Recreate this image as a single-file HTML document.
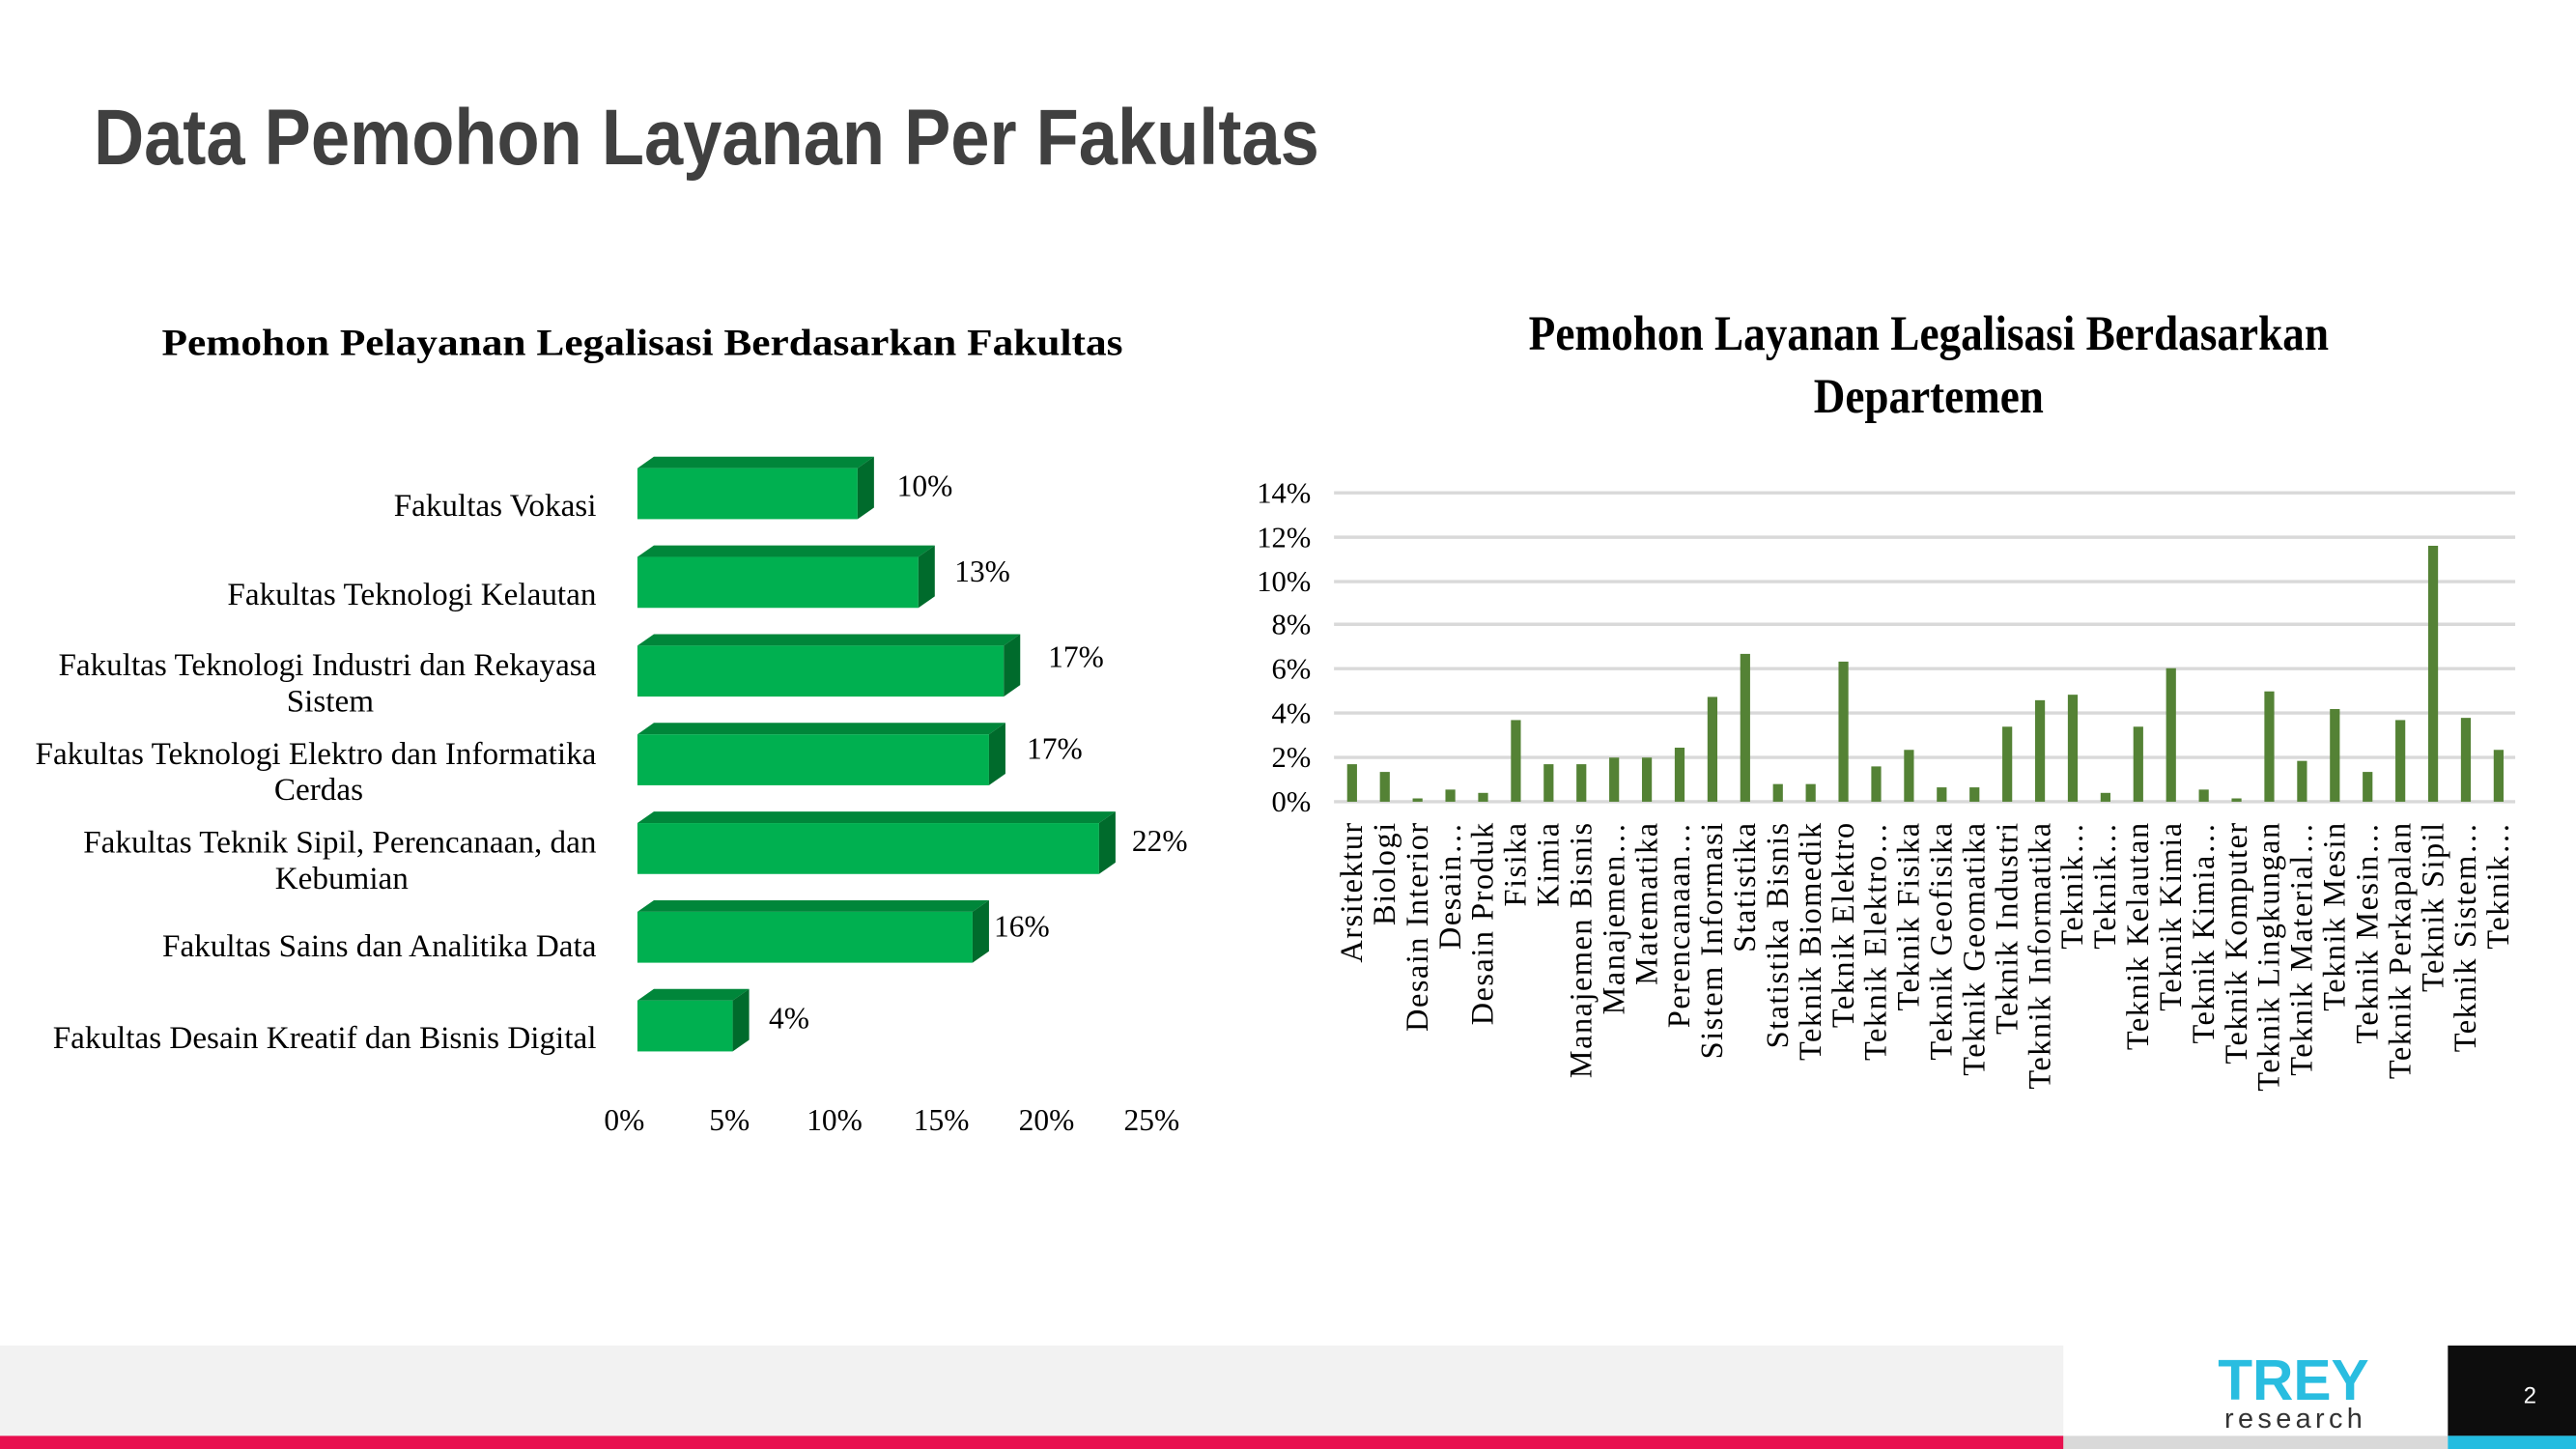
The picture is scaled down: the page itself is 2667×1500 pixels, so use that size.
<!DOCTYPE html>
<html><head><meta charset="utf-8"><style>
html,body{margin:0;padding:0;background:#fff;}
svg{display:block;}
</style></head><body>
<svg width="2667" height="1500" viewBox="0 0 1568 882" preserveAspectRatio="none" xmlns="http://www.w3.org/2000/svg">
<rect width="1568" height="882" fill="#fff"/>
<text x="57" y="100" font-family="Liberation Sans, sans-serif" font-weight="bold" font-size="48" fill="#404040" textLength="746" lengthAdjust="spacingAndGlyphs">Data Pemohon Layanan Per Fakultas</text>

<text x="391" y="216" text-anchor="middle" font-family="Liberation Serif, serif" font-weight="bold" font-size="23" fill="#000" textLength="585" lengthAdjust="spacingAndGlyphs">Pemohon Pelayanan Legalisasi Berdasarkan Fakultas</text>
<g font-family="Liberation Serif, serif" font-size="19.5" fill="#000">
<g text-anchor="end">
<text x="363" y="314">Fakultas Vokasi</text>
<text x="363" y="368">Fakultas Teknologi Kelautan</text>
<text x="363" y="411">Fakultas Teknologi Industri dan Rekayasa</text>
<text x="363" y="465">Fakultas Teknologi Elektro dan Informatika</text>
<text x="363" y="519">Fakultas Teknik Sipil, Perencanaan, dan</text>
<text x="363" y="582">Fakultas Sains dan Analitika Data</text>
<text x="363" y="638">Fakultas Desain Kreatif dan Bisnis Digital</text>
</g>
<g text-anchor="middle">
<text x="201" y="433">Sistem</text>
<text x="194" y="487">Cerdas</text>
<text x="208" y="541">Kebumian</text>
</g>
</g>
<g font-family="Liberation Serif, serif" font-size="18.5" fill="#000">
<g text-anchor="middle">
<text x="380" y="688">0%</text><text x="444" y="688">5%</text><text x="508" y="688">10%</text><text x="573" y="688">15%</text><text x="637" y="688">20%</text><text x="701" y="688">25%</text>
</g>
<text x="546" y="302">10%</text>
<text x="581" y="354">13%</text>
<text x="638" y="406">17%</text>
<text x="625" y="462">17%</text>
<text x="689" y="518">22%</text>
<text x="605" y="570">16%</text>
<text x="468" y="626">4%</text>
</g>
<g>
<g><polygon points="388,285 398,278 532,278 522,285" fill="#00863a"/><rect x="388" y="285" width="134" height="31" fill="#00b050"/><polygon points="522,285 532,278 532,309 522,316" fill="#006b2c"/></g>
<g><polygon points="388,339 398,332 569,332 559,339" fill="#00863a"/><rect x="388" y="339" width="171" height="31" fill="#00b050"/><polygon points="559,339 569,332 569,363 559,370" fill="#006b2c"/></g>
<g><polygon points="388,393 398,386 621,386 611,393" fill="#00863a"/><rect x="388" y="393" width="223" height="31" fill="#00b050"/><polygon points="611,393 621,386 621,417 611,424" fill="#006b2c"/></g>
<g><polygon points="388,447 398,440 612,440 602,447" fill="#00863a"/><rect x="388" y="447" width="214" height="31" fill="#00b050"/><polygon points="602,447 612,440 612,471 602,478" fill="#006b2c"/></g>
<g><polygon points="388,501 398,494 679,494 669,501" fill="#00863a"/><rect x="388" y="501" width="281" height="31" fill="#00b050"/><polygon points="669,501 679,494 679,525 669,532" fill="#006b2c"/></g>
<g><polygon points="388,555 398,548 602,548 592,555" fill="#00863a"/><rect x="388" y="555" width="204" height="31" fill="#00b050"/><polygon points="592,555 602,548 602,579 592,586" fill="#006b2c"/></g>
<g><polygon points="388,609 398,602 456,602 446,609" fill="#00863a"/><rect x="388" y="609" width="58" height="31" fill="#00b050"/><polygon points="446,609 456,602 456,633 446,640" fill="#006b2c"/></g>
</g>

<g font-family="Liberation Serif, serif" font-weight="bold" font-size="30" fill="#000" text-anchor="middle">
<text x="1174" y="213" textLength="487" lengthAdjust="spacingAndGlyphs">Pemohon Layanan Legalisasi Berdasarkan</text>
<text x="1174" y="251" textLength="140" lengthAdjust="spacingAndGlyphs">Departemen</text>
</g>
<g stroke="#d9d9d9" stroke-width="2">
<line x1="812" y1="300" x2="1531" y2="300"/><line x1="812" y1="327" x2="1531" y2="327"/><line x1="812" y1="354" x2="1531" y2="354"/><line x1="812" y1="380" x2="1531" y2="380"/><line x1="812" y1="407" x2="1531" y2="407"/><line x1="812" y1="434" x2="1531" y2="434"/><line x1="812" y1="461" x2="1531" y2="461"/><line x1="812" y1="488" x2="1531" y2="488"/>
</g>
<g font-family="Liberation Serif, serif" font-size="18" fill="#000" text-anchor="end">
<text x="798" y="306">14%</text><text x="798" y="333">12%</text><text x="798" y="360">10%</text><text x="798" y="386">8%</text><text x="798" y="413">6%</text><text x="798" y="440">4%</text><text x="798" y="467">2%</text><text x="798" y="494">0%</text>
</g>
<g id="vb" fill="#548235"></g>
<g id="vl" font-family="Liberation Serif, serif" font-size="19" fill="#000" text-anchor="end"></g>

<rect x="0" y="819" width="1256" height="55" fill="#f2f2f2"/>
<rect x="0" y="874" width="1256" height="8" fill="#e8104f"/>
<rect x="1256" y="819" width="234" height="55" fill="#fff"/>
<rect x="1256" y="874" width="234" height="8" fill="#d9d9d9"/>
<rect x="1490" y="819" width="78" height="55" fill="#0d0d0d"/>
<rect x="1490" y="874" width="78" height="8" fill="#22bce0"/>
<text x="1396" y="852" text-anchor="middle" font-family="Liberation Sans, sans-serif" font-weight="bold" font-size="35" fill="#29bde0" textLength="92" lengthAdjust="spacingAndGlyphs">TREY</text>
<text x="1396" y="869" text-anchor="middle" font-family="Liberation Sans, sans-serif" font-size="17" fill="#333" textLength="84" lengthAdjust="spacing">research</text>
<text x="1540" y="854" text-anchor="middle" font-family="Liberation Sans, sans-serif" font-size="14" fill="#fff">2</text>
</svg>
<script>
var d=[["Arsitektur",1.7],["Biologi",1.35],["Desain Interior",0.15],["Desain…",0.55],["Desain Produk",0.4],["Fisika",3.7],["Kimia",1.7],["Manajemen Bisnis",1.7],["Manajemen…",2.0],["Matematika",2.0],["Perencanaan…",2.45],["Sistem Informasi",4.75],["Statistika",6.7],["Statistika Bisnis",0.8],["Teknik Biomedik",0.8],["Teknik Elektro",6.35],["Teknik Elektro…",1.6],["Teknik Fisika",2.35],["Teknik Geofisika",0.65],["Teknik Geomatika",0.65],["Teknik Industri",3.4],["Teknik Informatika",4.6],["Teknik…",4.85],["Teknik…",0.4],["Teknik Kelautan",3.4],["Teknik Kimia",6.05],["Teknik Kimia…",0.55],["Teknik Komputer",0.15],["Teknik Lingkungan",5.0],["Teknik Material…",1.85],["Teknik Mesin",4.2],["Teknik Mesin…",1.35],["Teknik Perkapalan",3.7],["Teknik Sipil",11.6],["Teknik Sistem…",3.8],["Teknik…",2.35]];
var NS="http://www.w3.org/2000/svg",vb=document.getElementById("vb"),vl=document.getElementById("vl");
d.forEach(function(e,i){var cx=823+i*19.94,h=e[1]*13.43;
var r=document.createElementNS(NS,"rect");r.setAttribute("x",cx-3);r.setAttribute("y",488-h);r.setAttribute("width",6);r.setAttribute("height",h);vb.appendChild(r);
var t=document.createElementNS(NS,"text");t.setAttribute("transform","translate("+(cx+6)+",500) rotate(-90)");t.setAttribute("letter-spacing","0.9");t.textContent=e[0];vl.appendChild(t);});
</script>
</body></html>
